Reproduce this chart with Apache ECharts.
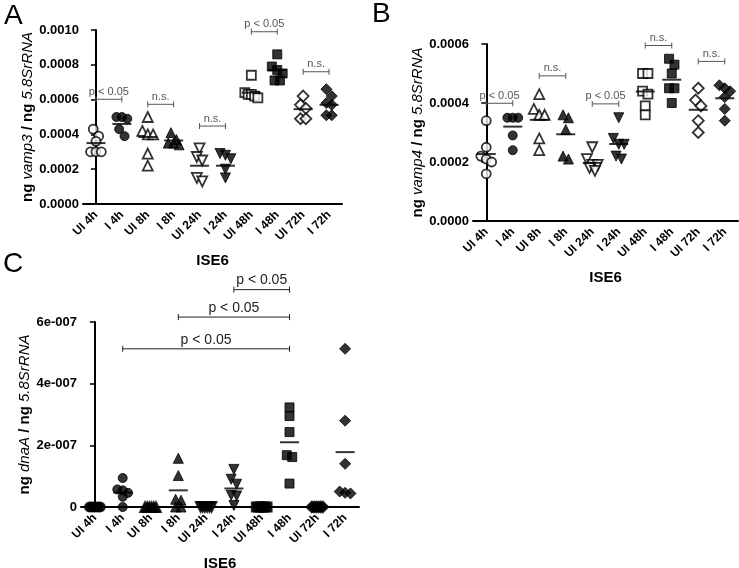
<!DOCTYPE html>
<html>
<head>
<meta charset="utf-8">
<script src="https://cdn.jsdelivr.net/npm/echarts@6/dist/echarts.min.js"></script>
<style>
  html, body { margin: 0; padding: 0; background: #fff; }
  #chart { width: 739px; height: 568px; }
</style>
</head>
<body>
<div id="chart"></div>
<script>
const FONT = 'Liberation Sans, Arial, sans-serif';

const categories = ['UI 4h', 'I 4h', 'UI 8h', 'I 8h', 'UI 24h', 'I 24h', 'UI 48h', 'I 48h', 'UI 72h', 'I 72h'];

// panel A: vamp3
const vamp3Points = [
  [0.00043, 0.00039, 0.00036, 0.00030, 0.00030, 0.00030],
  [0.00050, 0.00050, 0.00049, 0.00043, 0.00039],
  [0.00050, 0.00042, 0.00040, 0.00040, 0.00029, 0.00022],
  [0.00041, 0.00037, 0.00035, 0.00035, 0.00034],
  [0.00032, 0.00027, 0.00025, 0.00015, 0.00013],
  [0.00029, 0.00028, 0.00026, 0.00020, 0.00015],
  [0.00074, 0.00064, 0.00063, 0.00063, 0.00062, 0.00061],
  [0.00086, 0.00079, 0.00077, 0.00075, 0.00071, 0.00071],
  [0.00062, 0.00057, 0.00055, 0.00049, 0.00049],
  [0.00066, 0.00062, 0.00058, 0.00057, 0.00051, 0.00051]
];
const vamp3Means = [0.00035, 0.00046, 0.000385, 0.000365, 0.00022, 0.00022, 0.00064, 0.00077, 0.000545, 0.00057];
const vamp3Brackets = [[0, 1, 0.000602, 'p < 0.05'], [2, 3, 0.000573, 'n.s.'], [4, 5, 0.000448, 'n.s.'], [6, 7, 0.00099, 'p < 0.05'], [8, 9, 0.00076, 'n.s.']];
const vamp3Ticks = [0, 0.0002, 0.0004, 0.0006, 0.0008, 0.0010];

// panel B: vamp4
const vamp4Points = [
  [0.00034, 0.00025, 0.00022, 0.00021, 0.00020, 0.00016],
  [0.00035, 0.00035, 0.00035, 0.00029, 0.00024],
  [0.00043, 0.00038, 0.00036, 0.00036, 0.00028, 0.00024],
  [0.00036, 0.00035, 0.00031, 0.00022, 0.00021],
  [0.00025, 0.00021, 0.00019, 0.00019, 0.00018, 0.00017],
  [0.00035, 0.00028, 0.00026, 0.00026, 0.00022, 0.00021],
  [0.00050, 0.00050, 0.00044, 0.00043, 0.00039, 0.00036],
  [0.00055, 0.00053, 0.00050, 0.00045, 0.00045, 0.00040],
  [0.00045, 0.00041, 0.00039, 0.00034, 0.00030],
  [0.00046, 0.00045, 0.00044, 0.00042, 0.00038, 0.00034]
];
const vamp4Means = [0.000227, 0.00032, 0.000343, 0.000294, 0.000197, 0.000261, 0.000439, 0.000479, 0.000377, 0.000416];
const vamp4Brackets = [[0, 1, 0.000399, 'p < 0.05'], [2, 3, 0.000492, 'n.s.'], [4, 5, 0.000397, 'p < 0.05'], [6, 7, 0.000595, 'n.s.'], [8, 9, 0.000541, 'n.s.']];
const vamp4Ticks = [0, 0.0002, 0.0004, 0.0006];

// panel C: dnaA
const dnaAPoints = [
  [0, 0, 0, 0, 0, 0],
  [9.4e-8, 5.7e-8, 5.4e-8, 4.6e-8, 3.3e-8, 0],
  [0, 0, 0, 0, 0, 0],
  [1.58e-7, 1.02e-7, 2.5e-8, 2.2e-8, 0, 0],
  [0, 0, 0, 0, 0, 0],
  [1.22e-7, 9.0e-8, 7.4e-8, 3.8e-8, 3.6e-8, 5e-9],
  [0, 0, 0, 0, 0, 0],
  [3.23e-7, 2.95e-7, 2.43e-7, 1.68e-7, 1.62e-7, 7.6e-8],
  [0, 0, 0, 0, 0, 0],
  [5.13e-7, 2.8e-7, 1.4e-7, 5.0e-8, 4.6e-8, 4.4e-8]
];
const dnaAMeans = [0, 4.7e-8, 0, 5.4e-8, 0, 6.0e-8, 0, 2.1e-7, 0, 1.78e-7];
const dnaABrackets = [[1, 7, 5.13e-7, 'p < 0.05'], [3, 7, 6.16e-7, 'p < 0.05'], [5, 7, 7.05e-7, 'p < 0.05']];
const dnaATicks = [0, 2e-7, 4e-7, 6e-7];

// marker per column: shape, filled, rotate
const markers = [
  ['circle', false, 0], ['circle', true, 0],
  ['triangle', false, 0], ['triangle', true, 0],
  ['triangle', false, 180], ['triangle', true, 180],
  ['rect', false, 0], ['rect', true, 0],
  ['diamond', false, 0], ['diamond', true, 0]
];

// column scatter layout (points close in y are spread sideways)
function swarm(vals, ci, pxPerVal, bandPx, sym, maxSpan) {
  const sorted = vals.slice().sort((a, b) => b - a);
  const rows = [];
  sorted.forEach(v => {
    const row = rows[rows.length - 1];
    if (row && (row[0] - v) * pxPerVal < sym * 0.8) row.push(v);
    else rows.push([v]);
  });
  const out = [];
  rows.forEach(row => {
    const n = row.length;
    const step = n > 1 ? Math.min(sym * 0.6, maxSpan / (n - 1)) : 0;
    row.forEach((v, i) => out.push([ci + (i - (n - 1) / 2) * step / bandPx, v]));
  });
  return out;
}

const panels = [
  { points: vamp3Points, means: vamp3Means, brackets: vamp3Brackets, ticks: vamp3Ticks,
    grid: { left: 83, top: 30, right: 397, bottom: 364 }, gene: 'vamp3',
    fmt: v => v.toFixed(4), bracketColor: '#555', bracketFont: 11, openFill: '#fff', maxSpan: 13 },
  { points: vamp4Points, means: vamp4Means, brackets: vamp4Brackets, ticks: vamp4Ticks,
    grid: { left: 473, top: 44, right: 1, bottom: 347 }, gene: 'vamp4',
    fmt: v => v.toFixed(4), bracketColor: '#555', bracketFont: 11, openFill: '#fff', maxSpan: 13 },
  { points: dnaAPoints, means: dnaAMeans, brackets: dnaABrackets, ticks: dnaATicks,
    grid: { left: 81, top: 322, right: 380, bottom: 61 }, gene: 'dnaA',
    fmt: v => v === 0 ? '0' : v.toExponential(0).replace('e-', 'e-00'), bracketColor: '#222', bracketFont: 14,
    openFill: '#000', maxSpan: 11 }
];

const grids = [], xAxes = [], yAxes = [], series = [];
panels.forEach((p, pi) => {
  grids.push(Object.assign({ outerBoundsMode: 'none', containLabel: false }, p.grid));
  const ticks = p.ticks;
  const yMax = ticks[ticks.length - 1];
  xAxes.push({
    type: 'category', gridIndex: pi, data: categories, boundaryGap: true,
    name: 'ISE6', nameLocation: 'middle', nameGap: 49,
    nameTextStyle: { fontFamily: FONT, fontWeight: 'bold', fontSize: 15, color: '#000' },
    axisLine: { lineStyle: { color: '#000', width: 2 } },
    axisTick: { alignWithLabel: true, length: 5, lineStyle: { color: '#000', width: 1.5 } },
    axisLabel: { rotate: 45, interval: 0, margin: 9, fontFamily: FONT, fontWeight: 'bold', fontSize: 12, color: '#000' },
    splitLine: { show: false }
  });
  xAxes.push({ type: 'value', gridIndex: pi, min: -0.5, max: 9.5, show: false });
  yAxes.push({
    type: 'value', gridIndex: pi, min: 0, max: yMax, interval: ticks[1] - ticks[0],
    name: '{b|ng }{i|' + p.gene + '}{b| / ng }{i|5.8SrRNA}',
    nameLocation: 'middle', nameGap: 46,
    nameTextStyle: {
      fontFamily: FONT, fontSize: 15, color: '#000',
      rich: {
        b: { fontFamily: FONT, fontSize: 15, fontWeight: 'bold', color: '#000' },
        i: { fontFamily: FONT, fontSize: 15, fontStyle: 'italic', color: '#000' }
      }
    },
    axisLine: { show: true, lineStyle: { color: '#000', width: 2 } },
    axisTick: { show: true, length: 5, lineStyle: { color: '#000', width: 1.5 } },
    axisLabel: { fontFamily: FONT, fontWeight: 'bold', fontSize: 13, color: '#000', margin: 4, formatter: p.fmt },
    splitLine: { show: false }
  });

  const g = p.grid;
  const plotW = 739 - g.left - g.right;
  const plotH = 568 - g.top - g.bottom;
  const bandPx = plotW / categories.length;
  const pxPerVal = plotH / yMax;

  p.points.forEach((vals, ci) => {
    const m = markers[ci];
    series.push({
      type: 'scatter', xAxisIndex: pi * 2 + 1, yAxisIndex: pi,
      data: swarm(vals, ci, pxPerVal, bandPx, 9, p.maxSpan),
      symbol: m[0], symbolRotate: m[2],
      symbolSize: m[0] === 'diamond' ? 11 : (m[0] === 'triangle' ? 10 : 9),
      itemStyle: m[1]
        ? { color: '#000', borderColor: '#000', borderWidth: 1 }
        : { color: p.openFill, borderColor: '#000', borderWidth: 1.8 },
      z: 2, silent: true
    });
  });

  series.push({
    type: 'scatter', xAxisIndex: pi * 2, yAxisIndex: pi,
    data: p.means.map((v, i) => [i, v]),
    symbol: 'rect', symbolSize: [19, 2],
    itemStyle: { color: '#000' }, z: 3, silent: true
  });

  const labels = p.brackets.map(b => b[3]);
  series.push({
    type: 'custom', xAxisIndex: pi * 2, yAxisIndex: pi, clip: false, silent: true, z: 4,
    data: p.brackets.map(b => [b[0], b[1], b[2]]),
    encode: { x: [0, 1], y: 2 },
    renderItem: function (params, api) {
      const a = api.coord([api.value(0), api.value(2)]);
      const b = api.coord([api.value(1), api.value(2)]);
      const st = { stroke: p.bracketColor, lineWidth: 1 };
      return {
        type: 'group',
        children: [
          { type: 'line', shape: { x1: a[0], y1: a[1], x2: b[0], y2: b[1] }, style: st },
          { type: 'line', shape: { x1: a[0], y1: a[1] - 3, x2: a[0], y2: a[1] + 3 }, style: st },
          { type: 'line', shape: { x1: b[0], y1: b[1] - 3, x2: b[0], y2: b[1] + 3 }, style: st },
          {
            type: 'text', x: (a[0] + b[0]) / 2, y: a[1] - 2,
            style: {
              text: labels[params.dataIndex], fill: p.bracketColor,
              font: p.bracketFont + 'px ' + FONT,
              align: 'center', verticalAlign: 'bottom',
              textAlign: 'center', textVerticalAlign: 'bottom'
            }
          }
        ]
      };
    }
  });
});

const chart = echarts.init(document.getElementById('chart'));
chart.setOption({
  animation: false,
  backgroundColor: '#fff',
  grid: grids,
  xAxis: xAxes,
  yAxis: yAxes,
  series: series,
  graphic: [
    { type: 'text', left: 4, top: 2, style: { text: 'A', font: '28px ' + FONT, fill: '#000' } },
    { type: 'text', left: 372, top: 0, style: { text: 'B', font: '28px ' + FONT, fill: '#000' } },
    { type: 'text', left: 3, top: 250, style: { text: 'C', font: '28px ' + FONT, fill: '#000' } }
  ]
});
</script>
</body>
</html>
